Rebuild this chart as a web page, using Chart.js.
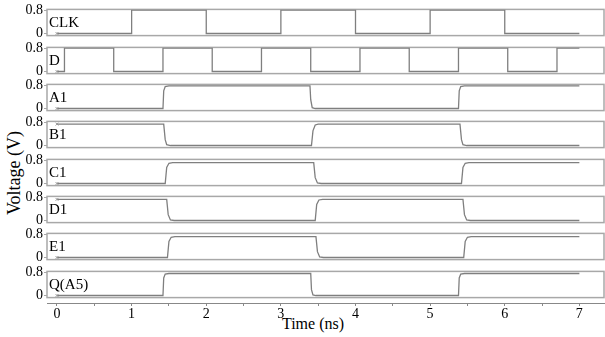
<!DOCTYPE html>
<html>
<head>
<meta charset="utf-8">
<script src="https://cdn.jsdelivr.net/npm/chart.js@4/dist/chart.umd.min.js"></script>
<style>
  body { margin: 0; background: #fff; }
  #wrap { position: relative; width: 605px; height: 337px; overflow: hidden; }
  canvas { position: absolute; left: 0; }
  .title { position: absolute; white-space: nowrap; font-family: "Liberation Serif", serif; color: #000; }
  #ytitle { left: 14px; top: 173px; font-size: 18px; transform: translate(-50%, -50%) rotate(-90deg); }
  #xtitle { left: 313px; top: 324px; font-size: 16px; transform: translate(-50%, -50%); }
</style>
</head>
<body>
<div id="wrap">
  <div class="title" id="ytitle">Voltage (V)</div>
  <div class="title" id="xtitle">Time (ns)</div>
</div>
<script>
// signal names, top to bottom
const names = ['CLK', 'D', 'A1', 'B1', 'C1', 'D1', 'E1', 'Q(A5)'];

// time (ns) / voltage (V) pairs
const clkTime = [0, 1, 1, 2, 2, 3, 3, 4, 4, 5, 5, 6, 6, 7];
const clkVolt = [0, 0, 0.8, 0.8, 0, 0, 0.8, 0.8, 0, 0, 0.8, 0.8, 0, 0];

const dTime = [0, 0.1, 0.1, 0.76, 0.76, 1.42, 1.42, 2.08, 2.08, 2.74, 2.74, 3.4, 3.4,
  4.06, 4.06, 4.72, 4.72, 5.38, 5.38, 6.04, 6.04, 6.7, 6.7, 7];
const dVolt = [0, 0, 0.8, 0.8, 0, 0, 0.8, 0.8, 0, 0, 0.8, 0.8, 0,
  0, 0.8, 0.8, 0, 0, 0.8, 0.8, 0, 0, 0.8, 0.8];

const a1Time = [0, 1.42, 1.43, 1.45, 1.5, 3.39, 3.4, 3.42, 3.46, 5.38, 5.39, 5.41, 5.46, 7];
const a1Volt = [0, 0, 0.6, 0.75, 0.77, 0.77, 0.3, 0.03, 0, 0, 0.6, 0.75, 0.77, 0.77];

const b1Time = [0, 1.43, 1.45, 1.47, 1.52, 3.41, 3.43, 3.46, 3.5, 5.4, 5.42, 5.44, 5.49, 7];
const b1Volt = [0.73, 0.73, 0.2, 0.03, 0, 0, 0.5, 0.7, 0.73, 0.73, 0.2, 0.03, 0, 0];

const c1Time = [0, 1.45, 1.47, 1.5, 1.55, 3.44, 3.46, 3.49, 3.54, 5.42, 5.44, 5.47, 5.52, 7];
const c1Volt = [0, 0, 0.55, 0.69, 0.71, 0.71, 0.2, 0.02, 0, 0, 0.55, 0.69, 0.71, 0.71];

const d1Time = [0, 1.47, 1.49, 1.52, 1.57, 3.46, 3.48, 3.51, 3.56, 5.44, 5.46, 5.49, 5.54, 7];
const d1Volt = [0.72, 0.72, 0.2, 0.02, 0, 0, 0.55, 0.7, 0.72, 0.72, 0.2, 0.02, 0, 0];

const e1Time = [0, 1.48, 1.5, 1.53, 1.58, 3.47, 3.49, 3.52, 3.57, 5.45, 5.47, 5.5, 5.55, 7];
const e1Volt = [0, 0, 0.55, 0.69, 0.71, 0.71, 0.2, 0.02, 0, 0, 0.55, 0.69, 0.71, 0.71];

const qTime = [0, 1.42, 1.43, 1.45, 1.5, 3.4, 3.41, 3.43, 3.47, 5.38, 5.39, 5.41, 5.46, 7];
const qVolt = [0, 0, 0.6, 0.73, 0.75, 0.75, 0.2, 0.02, 0, 0, 0.6, 0.73, 0.75, 0.75];

const signals = [
  [clkTime, clkVolt], [dTime, dVolt], [a1Time, a1Volt], [b1Time, b1Volt],
  [c1Time, c1Volt], [d1Time, d1Volt], [e1Time, e1Volt], [qTime, qVolt]
];

const yTicks = [0, 0.8];
const xTicks = [0, 0.5, 1, 1.5, 2, 2.5, 3, 3.5, 4, 4.5, 5, 5.5, 6, 6.5, 7];
const xTickLabels = ['0', '1', '2', '3', '4', '5', '6', '7'];

const tMin = -0.134, tMax = 7.33;
const vMin = -0.071, vMax = 0.822;

const serif = '"Liberation Serif", "Times New Roman", serif';
const traceGray = '#7f7f7f';
const boxGray = '#a8a8a8';

const wrap = document.getElementById('wrap');

function addCanvas(top, height) {
  const cv = document.createElement('canvas');
  cv.width = 605;
  cv.height = height;
  cv.style.top = top + 'px';
  wrap.appendChild(cv);
  return cv;
}

// frame around each panel + the signal name inside it
const panelBox = {
  id: 'panelBox',
  beforeDatasetsDraw(chart) {
    const a = chart.chartArea, ctx = chart.ctx;
    ctx.save();
    ctx.strokeStyle = boxGray;
    ctx.lineWidth = 1.5;
    ctx.strokeRect(a.left, a.top, a.right - a.left, a.bottom - a.top);
    ctx.restore();
  },
  afterDraw(chart, args, opts) {
    const a = chart.chartArea, ctx = chart.ctx;
    ctx.save();
    ctx.fillStyle = '#000';
    ctx.font = '15px ' + serif;
    ctx.textBaseline = 'middle';
    ctx.fillText(opts.label, a.left + 2, (a.top + a.bottom) / 2 + 1);
    ctx.restore();
  }
};

function drawPanels() {
  names.forEach((name, i) => {
    const top = Math.round(8.3 + 37.33 * i);
    const cv = addCanvas(top - 8, 45);
    const [t, v] = signals[i];

    new Chart(cv, {
      type: 'line',
      data: {
        datasets: [{
          data: t.map((x, k) => ({ x: x, y: v[k] })),
          borderColor: traceGray,
          borderWidth: 1.3,
          tension: 0,
          pointStyle: 'crossRot',
          pointRadius: c => (c.dataIndex === 0 ? 2 : 0),
          pointBorderColor: '#999',
          pointBorderWidth: 1
        }]
      },
      options: {
        responsive: false,
        animation: false,
        devicePixelRatio: 1,
        layout: { autoPadding: false, padding: { top: 8, bottom: 8, left: 0, right: 1 } },
        plugins: {
          legend: { display: false },
          tooltip: { enabled: false },
          panelBox: { label: name }
        },
        scales: {
          x: { type: 'linear', display: false, min: tMin, max: tMax },
          y: {
            min: vMin,
            max: vMax,
            afterBuildTicks: s => { s.ticks = yTicks.map(value => ({ value })); },
            afterFit: s => { s.width = 47; },
            ticks: {
              font: { family: serif, size: 14 },
              color: '#000',
              padding: 1,
              callback: val => String(val)
            },
            grid: { drawOnChartArea: false, tickLength: 3, color: boxGray },
            border: { display: false }
          }
        }
      },
      plugins: [panelBox]
    });
  });

  // shared time axis under the last panel
  const axisCv = addCanvas(293, 44);
  new Chart(axisCv, {
    type: 'line',
    data: { datasets: [] },
    options: {
      responsive: false,
      animation: false,
      devicePixelRatio: 1,
      layout: { autoPadding: false, padding: { top: 0, bottom: 0, left: 47, right: 1 } },
      plugins: { legend: { display: false }, tooltip: { enabled: false } },
      scales: {
        x: {
          type: 'linear',
          min: tMin,
          max: tMax,
          afterBuildTicks: s => { s.ticks = xTicks.map(value => ({ value })); },
          afterFit: s => { s.height = 34; },
          ticks: {
            font: { family: serif, size: 14 },
            color: '#000',
            padding: 0,
            maxRotation: 0,
            autoSkip: false,
            callback: val => (Number.isInteger(val) ? xTickLabels[val] : '')
          },
          grid: { drawOnChartArea: false, tickLength: 3, color: '#888' },
          border: { color: '#888', dash: [1, 2] }
        },
        y: { display: false, min: 0, max: 1 }
      }
    }
  });
}

// canvas text needs the serif face loaded before the first draw
Promise.all([
  document.fonts.load('14px "Liberation Serif"'),
  document.fonts.load('15px "Liberation Serif"')
]).then(drawPanels, drawPanels);
</script>
</body>
</html>
